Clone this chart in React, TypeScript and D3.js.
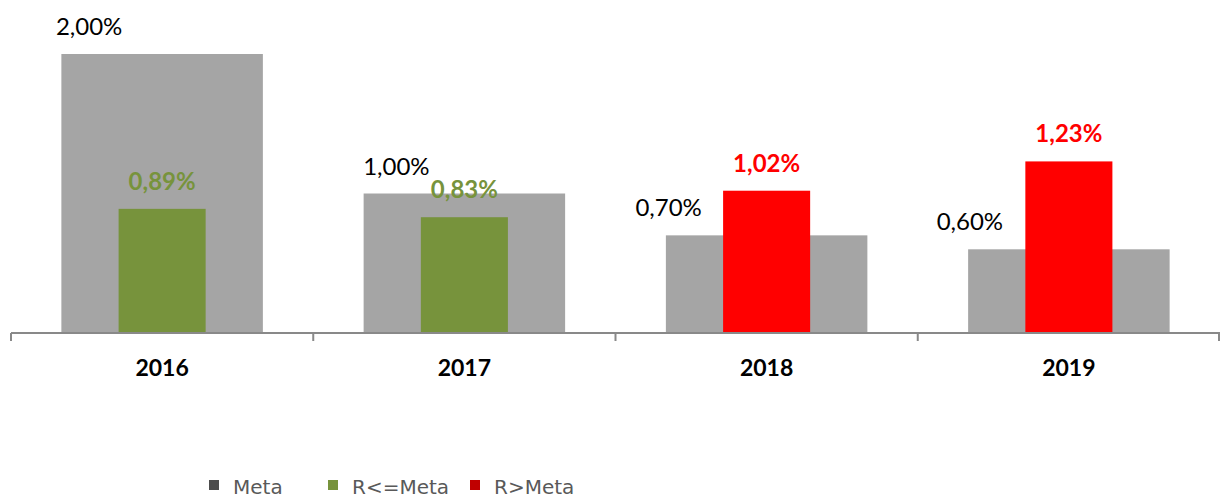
import React from "react";
import * as d3 from "d3";

const years = ["2016", "2017", "2018", "2019"];
const meta = [2.0, 1.0, 0.7, 0.6];
const result = [0.89, 0.83, 1.02, 1.23];
const legendItems = ["Meta", "R<=Meta", "R>Meta"];

// manual shifts of the Meta labels (Excel-style hand placed)
const metaLabelShift = [-73, -68, -98, -99];

const W = 1220;
const H = 500;
const GRAY = "#a5a5a5";
const GREEN = "#77933c";
const RED = "#ff0000";
const labelFont = "Lato, 'Open Sans', sans-serif";

const fmt = (v: number) => v.toFixed(2).replace(".", ",") + "%";

export default function App() {
  const x = d3.scaleBand<string>().domain(years).range([11, 1220]).padding(0);
  const y = d3.scaleLinear().domain([0, 2]).range([333, 54]);
  const bw = x.bandwidth();
  const metaW = (bw * 2) / 3;
  const resW = bw * 0.288;
  const ticks = [...years.map((d) => x(d)!), 1219];

  const legendColors = ["#4d4d4d", GREEN, "#c00000"];
  const legendX = [209, 328, 470];

  return (
    <svg width={W} height={H} style={{ position: "absolute", left: 0, top: 0, background: "#fff" }}>
      {years.map((yr, i) => {
        const cx = x(yr)! + bw / 2;
        const over = result[i] > meta[i];
        const col = over ? RED : GREEN;
        return (
          <g key={yr}>
            <rect x={cx - metaW / 2} y={y(meta[i])} width={metaW} height={y(0) - y(meta[i])} fill={GRAY} />
            <rect x={cx - resW / 2} y={y(result[i])} width={resW} height={y(0) - y(result[i])} fill={col} />
            <text
              x={cx + metaLabelShift[i]}
              y={y(meta[i]) - 19}
              textAnchor="middle"
              fontFamily={labelFont}
              fontSize={24}
              fill="#000"
            >
              {fmt(meta[i])}
            </text>
            <text
              x={cx}
              y={y(result[i]) - 19}
              textAnchor="middle"
              fontFamily={labelFont}
              fontWeight="bold"
              fontSize={24}
              fill={col}
            >
              {fmt(result[i])}
            </text>
            <text
              x={cx}
              y={376}
              textAnchor="middle"
              fontFamily={labelFont}
              fontWeight="bold"
              fontSize={23}
              fill="#000"
            >
              {yr}
            </text>
          </g>
        );
      })}
      <line x1={11} x2={1220} y1={y(0)} y2={y(0)} stroke="#898989" strokeWidth={2} />
      {ticks.map((t, i) => (
        <line key={i} x1={t} x2={t} y1={y(0)} y2={y(0) + 8} stroke="#898989" strokeWidth={2} />
      ))}
      {legendItems.map((l, i) => (
        <g key={l}>
          <rect x={legendX[i]} y={480} width={10} height={10} fill={legendColors[i]} />
          <text
            x={legendX[i] + 24}
            y={494}
            fontFamily="'DejaVu Sans', Verdana, sans-serif"
            fontSize={20}
            fill="#595959"
          >
            {l}
          </text>
        </g>
      ))}
    </svg>
  );
}
